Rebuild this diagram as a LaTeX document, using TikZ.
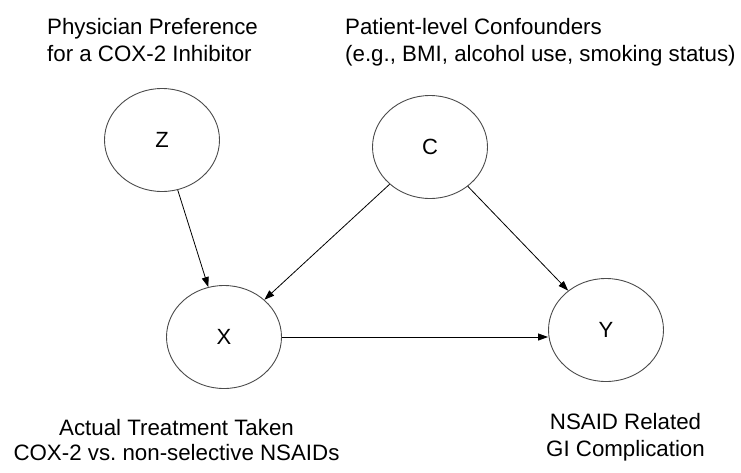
\documentclass[tikz,border=0pt]{standalone}
\usepackage{fontspec}
\setmainfont{Liberation Sans}
\usetikzlibrary{shapes.geometric,arrows.meta}
\frenchspacing
\begin{document}
\begin{tikzpicture}[x=1pt,y=-1pt,
  var/.style={draw=black!70, line width=0.9pt, ellipse, minimum width=115pt, minimum height=103pt, inner sep=0pt, font=\fontsize{22}{26}\selectfont},
  lab/.style={inner sep=0pt, font=\fontsize{22.3}{27}\selectfont},
  arr/.style={-{Triangle[length=10pt,width=7pt]}, line width=0.8pt}]
\useasboundingbox[fill=white] (0,0) rectangle (741,472);
\node[var] (Z) at (162,140) {Z};
\node[var] (C) at (430,147) {C};
\node[var] (X) at (224,337) {X};
\node[var] (Y) at (606,330) {Y};
\draw[arr] (Z) -- (X);
\draw[arr] (C) -- (X);
\draw[arr] (C) -- (Y);
\draw[arr] (X.east) -- (X.east -| Y.west);
\node[lab, anchor=base west, align=left] (tz) at (47,61) {Physician Preference\\for a COX-2 Inhibitor};
\node[lab, anchor=base west, align=left] (tc) at (345,61) {Patient-level Confounders\\(e.g., BMI, alcohol use, smoking status)};
\node[lab, anchor=base, align=center, font=\fontsize{22.3}{25}\selectfont] (tx) at (176.5,460) {Actual Treatment Taken\\COX-2 vs. non-selective NSAIDs};
\node[lab, anchor=base, align=center, font=\fontsize{22.3}{27}\selectfont] (ty) at (625.5,456) {NSAID Related\\GI Complication};
\end{tikzpicture}
\end{document}
